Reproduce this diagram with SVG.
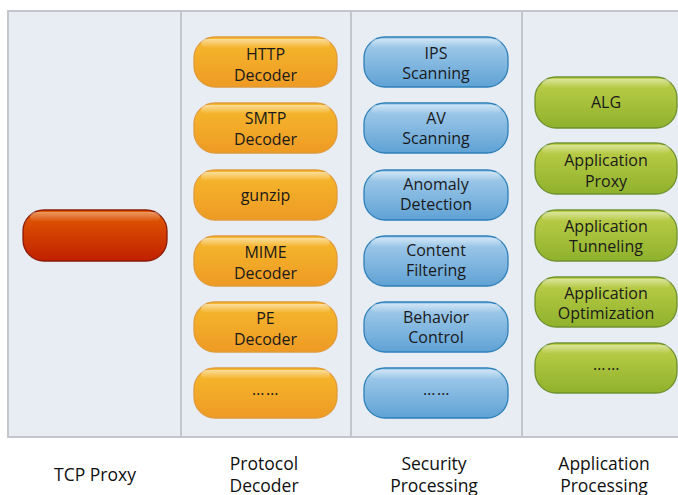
<svg xmlns="http://www.w3.org/2000/svg" width="678" height="495" viewBox="0 0 678 495">
  <defs>
    <linearGradient id="gOrange" x1="0" y1="0" x2="0" y2="1">
      <stop offset="0" stop-color="#f6b92c"/>
      <stop offset="1" stop-color="#ee9a24"/>
    </linearGradient>
    <linearGradient id="gBlue" x1="0" y1="0" x2="0" y2="1">
      <stop offset="0" stop-color="#a9cfec"/>
      <stop offset="1" stop-color="#5fa2d5"/>
    </linearGradient>
    <linearGradient id="gGreen" x1="0" y1="0" x2="0" y2="1">
      <stop offset="0" stop-color="#bfd04a"/>
      <stop offset="1" stop-color="#8fb12c"/>
    </linearGradient>
    <linearGradient id="gRed" x1="0" y1="0" x2="0" y2="1">
      <stop offset="0" stop-color="#e25c02"/>
      <stop offset="1" stop-color="#c01f00"/>
    </linearGradient>
    <linearGradient id="gShine" x1="0" y1="0" x2="0" y2="1">
      <stop offset="0" stop-color="#ffffff" stop-opacity="0.75"/>
      <stop offset="1" stop-color="#ffffff" stop-opacity="0"/>
    </linearGradient>
  </defs>
  <style>
    .panel { fill: #e8edf4; stroke: #c3c6ca; stroke-width: 2; }
    .divider { stroke: #c3c6ca; stroke-width: 2; }
    .pill { stroke-width: 1.3; }
    .orange { fill: url(#gOrange); stroke: #e09a3a; }
    .blue { fill: url(#gBlue); stroke: #2d7fb8; }
    .green { fill: url(#gGreen); stroke: #6f9130; }
    .red { fill: url(#gRed); stroke: #8a1a08; }
    .shine { fill: url(#gShine); }
    text { font-family: "Open Sans", "Noto Sans", "Liberation Sans", sans-serif; font-size: 16px; fill: #1a1a1a; text-anchor: middle; }
    .dots { letter-spacing: 1.5px; }
    .cap { font-size: 17.5px; fill: #111; }
  </style>

  <!-- background panel and column dividers -->
  <rect class="panel" x="8" y="11" width="680" height="426"/>
  <g id="dividers">
    <line class="divider" x1="181" y1="11" x2="181" y2="437"/>
    <line class="divider" x1="351" y1="11" x2="351" y2="437"/>
    <line class="divider" x1="522" y1="11" x2="522" y2="437"/>
  </g>

  <!-- no connectors in this diagram -->
  <g id="connectors"></g>

  <!-- TCP proxy column -->
  <g id="tcp-proxy-bar">
    <rect class="pill red" x="23" y="210" width="144" height="51" rx="21"/>
    <rect class="shine" x="30" y="212" width="130" height="10" rx="5" opacity="0.5"/>
  </g>

  <!-- Protocol decoder column -->
  <g id="http-decoder">
    <rect class="pill orange" x="194" y="37" width="143" height="50" rx="21"/>
    <rect class="shine" x="201" y="39" width="129" height="9" rx="4.5" opacity="0.7"/>
    <text x="265.5" y="60">HTTP</text><text x="265.5" y="81">Decoder</text>
  </g>
  <g id="smtp-decoder">
    <rect class="pill orange" x="194" y="103" width="143" height="50" rx="21"/>
    <rect class="shine" x="201" y="105" width="129" height="9" rx="4.5" opacity="0.7"/>
    <text x="265.5" y="124">SMTP</text><text x="265.5" y="145">Decoder</text>
  </g>
  <g id="gunzip">
    <rect class="pill orange" x="194" y="170" width="143" height="50" rx="21"/>
    <rect class="shine" x="201" y="172" width="129" height="9" rx="4.5" opacity="0.7"/>
    <text x="265.5" y="201">gunzip</text>
  </g>
  <g id="mime-decoder">
    <rect class="pill orange" x="194" y="236" width="143" height="50" rx="21"/>
    <rect class="shine" x="201" y="238" width="129" height="9" rx="4.5" opacity="0.7"/>
    <text x="265.5" y="258">MIME</text><text x="265.5" y="279">Decoder</text>
  </g>
  <g id="pe-decoder">
    <rect class="pill orange" x="194" y="302" width="143" height="50" rx="21"/>
    <rect class="shine" x="201" y="304" width="129" height="9" rx="4.5" opacity="0.7"/>
    <text x="265.5" y="324">PE</text><text x="265.5" y="345">Decoder</text>
  </g>
  <g id="more-decoders">
    <rect class="pill orange" x="194" y="368" width="143" height="50" rx="21"/>
    <rect class="shine" x="201" y="370" width="129" height="9" rx="4.5" opacity="0.7"/>
    <text class="dots" x="266" y="395">……</text>
  </g>

  <!-- Security processing column -->
  <g id="ips-scanning">
    <rect class="pill blue" x="364" y="37" width="144" height="50" rx="21"/>
    <rect class="shine" x="371" y="39" width="130" height="9" rx="4.5" opacity="0.6"/>
    <text x="436" y="59">IPS</text><text x="436" y="79">Scanning</text>
  </g>
  <g id="av-scanning">
    <rect class="pill blue" x="364" y="103" width="144" height="50" rx="21"/>
    <rect class="shine" x="371" y="105" width="130" height="9" rx="4.5" opacity="0.6"/>
    <text x="436" y="124">AV</text><text x="436" y="144">Scanning</text>
  </g>
  <g id="anomaly-detection">
    <rect class="pill blue" x="364" y="170" width="144" height="50" rx="21"/>
    <rect class="shine" x="371" y="172" width="130" height="9" rx="4.5" opacity="0.6"/>
    <text x="436" y="190">Anomaly</text><text x="436" y="210">Detection</text>
  </g>
  <g id="content-filtering">
    <rect class="pill blue" x="364" y="236" width="144" height="50" rx="21"/>
    <rect class="shine" x="371" y="238" width="130" height="9" rx="4.5" opacity="0.6"/>
    <text x="436" y="256">Content</text><text x="436" y="276">Filtering</text>
  </g>
  <g id="behavior-control">
    <rect class="pill blue" x="364" y="302" width="144" height="50" rx="21"/>
    <rect class="shine" x="371" y="304" width="130" height="9" rx="4.5" opacity="0.6"/>
    <text x="436" y="323">Behavior</text><text x="436" y="343">Control</text>
  </g>
  <g id="more-security">
    <rect class="pill blue" x="364" y="368" width="144" height="50" rx="21"/>
    <rect class="shine" x="371" y="370" width="130" height="9" rx="4.5" opacity="0.6"/>
    <text class="dots" x="437" y="395">……</text>
  </g>

  <!-- Application processing column -->
  <g id="alg">
    <rect class="pill green" x="535" y="77" width="142" height="51" rx="21"/>
    <rect class="shine" x="542" y="79" width="128" height="9" rx="4.5" opacity="0.6"/>
    <text x="606" y="108">ALG</text>
  </g>
  <g id="application-proxy">
    <rect class="pill green" x="535" y="143" width="142" height="51" rx="21"/>
    <rect class="shine" x="542" y="145" width="128" height="9" rx="4.5" opacity="0.6"/>
    <text x="606" y="166">Application</text><text x="606" y="187">Proxy</text>
  </g>
  <g id="application-tunneling">
    <rect class="pill green" x="535" y="210" width="142" height="51" rx="21"/>
    <rect class="shine" x="542" y="212" width="128" height="9" rx="4.5" opacity="0.6"/>
    <text x="606" y="232">Application</text><text x="606" y="252">Tunneling</text>
  </g>
  <g id="application-optimization">
    <rect class="pill green" x="535" y="277" width="142" height="50" rx="21"/>
    <rect class="shine" x="542" y="279" width="128" height="9" rx="4.5" opacity="0.6"/>
    <text x="606" y="299">Application</text><text x="606" y="319">Optimization</text>
  </g>
  <g id="more-applications">
    <rect class="pill green" x="535" y="343" width="142" height="50" rx="21"/>
    <rect class="shine" x="542" y="345" width="128" height="9" rx="4.5" opacity="0.6"/>
    <text class="dots" x="607" y="370">……</text>
  </g>

  <!-- column captions -->
  <g id="captions">
    <text class="cap" x="95" y="481">TCP Proxy</text>
    <text class="cap" x="264" y="470">Protocol</text><text class="cap" x="264" y="492">Decoder</text>
    <text class="cap" x="434" y="470">Security</text><text class="cap" x="434" y="492">Processing</text>
    <text class="cap" x="604" y="470">Application</text><text class="cap" x="604" y="492">Processing</text>
  </g>
</svg>
